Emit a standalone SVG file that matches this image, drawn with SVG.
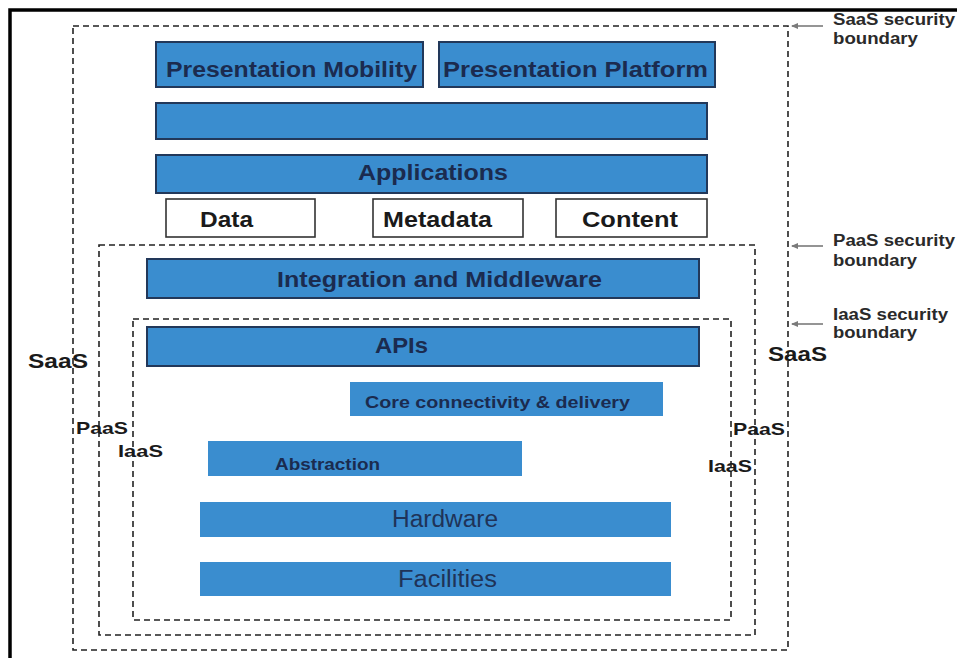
<svg xmlns="http://www.w3.org/2000/svg" width="957" height="658" viewBox="0 0 957 658">
<style>
.bg{fill:#ffffff}
.frame{fill:none;stroke:#000;stroke-width:3.5}
.bound{fill:none;stroke:#222;stroke-width:1.6;stroke-dasharray:6 4}
.bar{fill:#3a8dcf;stroke:#22385a;stroke-width:2}
.barn{fill:#3a8dcf;stroke:none}
.wbox{fill:#fff;stroke:#333;stroke-width:1.6}
.t{font-family:"Liberation Sans",Arial,sans-serif;font-weight:bold;fill:#1b2b4f;text-anchor:middle}
.tw{font-family:"Liberation Sans",Arial,sans-serif;font-weight:bold;fill:#1a1a1a;text-anchor:middle}
.tr{font-family:"Liberation Sans",Arial,sans-serif;font-weight:normal;fill:#1f3358;text-anchor:middle}
.tk{font-family:"Liberation Sans",Arial,sans-serif;font-weight:bold;fill:#1a1a1a}
.tg{font-family:"Liberation Sans",Arial,sans-serif;font-weight:bold;fill:#2a2a2a}
.arr{stroke:#7a7a7a;stroke-width:1.6;fill:none;marker-end:url(#ah)}
</style>
<defs>
<marker id="ah" markerWidth="8" markerHeight="8" refX="6" refY="4" orient="auto" markerUnits="userSpaceOnUse">
<path d="M0,1 L7,4 L0,7 Z" fill="#7a7a7a"/>
</marker>
</defs>
<rect class="bg" x="0" y="0" width="957" height="658"/>
<path class="frame" d="M10,662 V10 H962"/>

<g id="boundaries">
<rect id="saas-boundary" class="bound" x="73" y="26" width="715" height="624"/>
<rect id="paas-boundary" class="bound" x="99" y="245" width="656" height="390"/>
<rect id="iaas-boundary" class="bound" x="133" y="319" width="598" height="301"/>
</g>

<g id="presentation-mobility"><rect class="bar" x="156" y="42" width="267" height="45"/><text class="t" x="291.5" y="77" font-size="22" textLength="251" lengthAdjust="spacingAndGlyphs">Presentation Mobility</text></g>
<g id="presentation-platform"><rect class="bar" x="439" y="42" width="276" height="45"/><text class="t" x="575.5" y="77" font-size="22" textLength="265" lengthAdjust="spacingAndGlyphs">Presentation Platform</text></g>
<g id="blank-bar"><rect class="bar" x="156" y="103" width="551" height="36"/></g>
<g id="applications"><rect class="bar" x="156" y="155" width="551" height="38"/><text class="t" x="433" y="180" font-size="22" textLength="150" lengthAdjust="spacingAndGlyphs">Applications</text></g>
<g id="data"><rect class="wbox" x="166" y="199" width="149" height="38"/><text class="tw" x="226.5" y="227" font-size="22" textLength="53" lengthAdjust="spacingAndGlyphs">Data</text></g>
<g id="metadata"><rect class="wbox" x="373" y="199" width="150" height="38"/><text class="tw" x="437.5" y="227" font-size="22" textLength="109" lengthAdjust="spacingAndGlyphs">Metadata</text></g>
<g id="content"><rect class="wbox" x="556" y="199" width="151" height="38"/><text class="tw" x="630" y="227" font-size="22" textLength="96" lengthAdjust="spacingAndGlyphs">Content</text></g>
<g id="integration"><rect class="bar" x="147" y="259" width="552" height="39"/><text class="t" x="439.5" y="287" font-size="22" textLength="325" lengthAdjust="spacingAndGlyphs">Integration and Middleware</text></g>
<g id="apis"><rect class="bar" x="147" y="327" width="552" height="39"/><text class="t" x="401.5" y="353" font-size="22" textLength="53" lengthAdjust="spacingAndGlyphs">APIs</text></g>
<g id="core"><rect class="barn" x="350" y="382" width="313" height="34"/><text class="t" x="497.5" y="408" font-size="17" textLength="265" lengthAdjust="spacingAndGlyphs">Core  connectivity &amp; delivery</text></g>
<g id="abstraction"><rect class="barn" x="208" y="441" width="314" height="35"/><text class="t" x="327.5" y="470" font-size="17" textLength="105" lengthAdjust="spacingAndGlyphs">Abstraction</text></g>
<g id="hardware"><rect class="barn" x="200" y="502" width="471" height="35"/><text class="tr" x="445" y="527" font-size="23" textLength="106" lengthAdjust="spacingAndGlyphs">Hardware</text></g>
<g id="facilities"><rect class="barn" x="200" y="562" width="471" height="34"/><text class="tr" x="447.5" y="587" font-size="23" textLength="99" lengthAdjust="spacingAndGlyphs">Facilities</text></g>

<g id="side-labels">
<text class="tk" x="28" y="368" font-size="20" textLength="60" lengthAdjust="spacingAndGlyphs">SaaS</text>
<text class="tk" x="76" y="434" font-size="17" textLength="52" lengthAdjust="spacingAndGlyphs">PaaS</text>
<text class="tk" x="118" y="457" font-size="17" textLength="45" lengthAdjust="spacingAndGlyphs">IaaS</text>
<text class="tk" x="768" y="361" font-size="20" textLength="59" lengthAdjust="spacingAndGlyphs">SaaS</text>
<text class="tk" x="733" y="435" font-size="17" textLength="52" lengthAdjust="spacingAndGlyphs">PaaS</text>
<text class="tk" x="708" y="472" font-size="17" textLength="44" lengthAdjust="spacingAndGlyphs">IaaS</text>
</g>

<g id="boundary-labels">
<text class="tg" x="833" y="25" font-size="16" textLength="122" lengthAdjust="spacingAndGlyphs">SaaS security</text>
<text class="tg" x="833" y="44" font-size="16" textLength="85" lengthAdjust="spacingAndGlyphs">boundary</text>
<text class="tg" x="833" y="246" font-size="16" textLength="122" lengthAdjust="spacingAndGlyphs">PaaS security</text>
<text class="tg" x="833" y="266" font-size="16" textLength="84" lengthAdjust="spacingAndGlyphs">boundary</text>
<text class="tg" x="833" y="320" font-size="16" textLength="115" lengthAdjust="spacingAndGlyphs">IaaS security</text>
<text class="tg" x="833" y="338" font-size="16" textLength="84" lengthAdjust="spacingAndGlyphs">boundary</text>
</g>

<g id="connectors">
<line class="arr" x1="823" y1="26" x2="792" y2="26"/>
<line class="arr" x1="823" y1="246" x2="792" y2="246"/>
<line class="arr" x1="823" y1="324" x2="792" y2="324"/>
</g>
</svg>
